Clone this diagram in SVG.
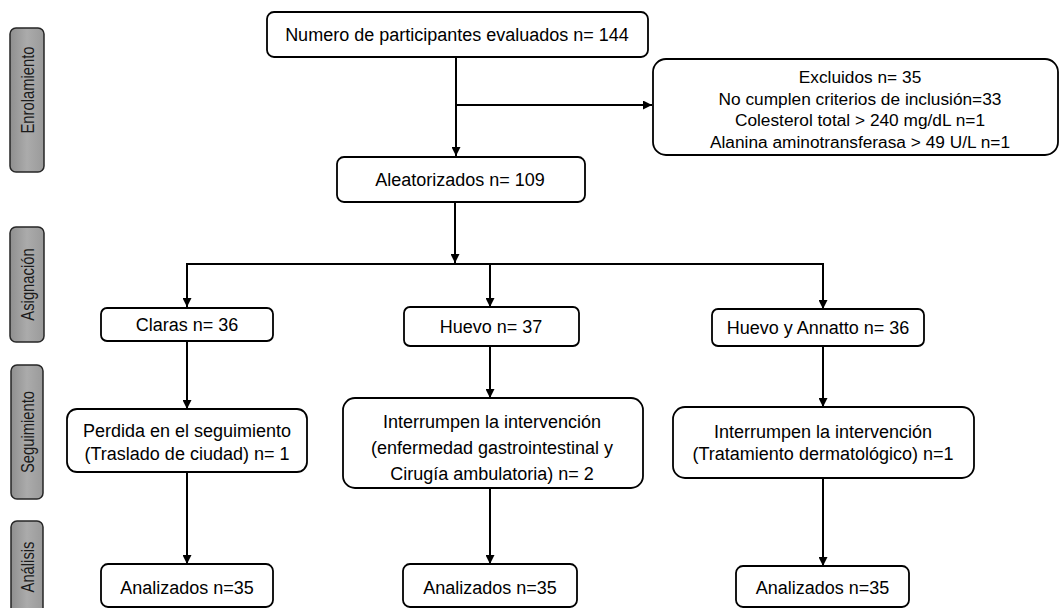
<svg xmlns="http://www.w3.org/2000/svg" width="1061" height="608" viewBox="0 0 1061 608">
<defs>
<style>
.box{fill:#fff;stroke:#000;stroke-width:1.8}
.lbl{fill:url(#g);stroke:#262626;stroke-width:1.5}
.t{font-family:"Liberation Sans",Arial,sans-serif;font-size:18px;fill:#000;text-anchor:middle}
.ts{font-size:17.3px}
.lt{font-family:"Liberation Sans",Arial,sans-serif;font-size:14.8px;fill:#1a1a1a;text-anchor:middle}
.c{fill:none;stroke:#000;stroke-width:2}
</style>
<linearGradient id="g" x1="0" y1="0" x2="1" y2="0">
<stop offset="0" stop-color="#8f8f8f"/>
<stop offset="0.5" stop-color="#ababab"/>
<stop offset="1" stop-color="#9a9a9a"/>
</linearGradient>
<marker id="ah" markerUnits="userSpaceOnUse" viewBox="0 0 10 10" refX="10" refY="5" markerWidth="9" markerHeight="9" orient="auto">
<path d="M0,0 L10,5 L0,10 z" fill="#000"/>
</marker>
</defs>
<rect width="1061" height="608" fill="#fff"/>

<g id="stage-enrolamiento"><rect class="lbl" x="10" y="28" width="34" height="144" rx="6"/><text class="lt" transform="translate(33.5,90) rotate(-90) scale(1,1.2)">Enrolamiento</text></g>
<g id="stage-asignacion"><rect class="lbl" x="10" y="227" width="34" height="115" rx="6"/><text class="lt" transform="translate(33.5,284.5) rotate(-90) scale(1,1.2)">Asignación</text></g>
<g id="stage-seguimiento"><rect class="lbl" x="11" y="365" width="32" height="134" rx="6"/><text class="lt" transform="translate(33.5,432) rotate(-90) scale(1,1.2)">Seguimiento</text></g>
<g id="stage-analisis"><rect class="lbl" x="11" y="521" width="32" height="100" rx="6"/><text class="lt" transform="translate(33.5,567) rotate(-90) scale(1,1.2)">Análisis</text></g>

<g id="connectors">
<path class="c" d="M456,57 V156" marker-end="url(#ah)"/>
<path class="c" d="M456,105 H652" marker-end="url(#ah)"/>
<path class="c" d="M455,202 V263" marker-end="url(#ah)"/>
<path class="c" d="M187,264 H823"/>
<path class="c" d="M187,263 V307" marker-end="url(#ah)"/>
<path class="c" d="M490,264 V307" marker-end="url(#ah)"/>
<path class="c" d="M823,263 V309" marker-end="url(#ah)"/>
<path class="c" d="M187,341 V409" marker-end="url(#ah)"/>
<path class="c" d="M490,346 V398" marker-end="url(#ah)"/>
<path class="c" d="M823,346 V407" marker-end="url(#ah)"/>
<path class="c" d="M187,472 V564" marker-end="url(#ah)"/>
<path class="c" d="M490,488 V564" marker-end="url(#ah)"/>
<path class="c" d="M823,478 V566" marker-end="url(#ah)"/>
</g>

<g id="evaluados"><rect class="box" x="267" y="12" width="381" height="45" rx="7"/><text class="t" x="457" y="41">Numero de participantes evaluados n= 144</text></g>
<g id="excluidos"><rect class="box" x="653" y="59" width="405" height="96" rx="13"/>
<text class="t ts" x="860" y="83">Excluidos n= 35</text>
<text class="t ts" x="860" y="104.5">No cumplen criterios de inclusión=33</text>
<text class="t ts" x="860" y="126">Colesterol total &gt; 240 mg/dL n=1</text>
<text class="t ts" x="860" y="147.5">Alanina aminotransferasa &gt; 49 U/L n=1</text></g>
<g id="aleatorizados"><rect class="box" x="337" y="157" width="248" height="45" rx="7"/><text class="t" x="460" y="186">Aleatorizados n= 109</text></g>

<g id="claras"><rect class="box" x="101" y="308" width="172" height="33" rx="6"/><text class="t" x="187" y="331">Claras n= 36</text></g>
<g id="huevo"><rect class="box" x="404" y="307" width="175" height="39" rx="6"/><text class="t" x="491" y="333">Huevo n= 37</text></g>
<g id="huevo-annatto"><rect class="box" x="712" y="309" width="212" height="37" rx="6"/><text class="t" x="818" y="334">Huevo y Annatto n= 36</text></g>

<g id="perdida"><rect class="box" x="67" y="409" width="240" height="63" rx="10"/>
<text class="t" x="187" y="437">Perdida en el seguimiento</text>
<text class="t" x="187" y="460">(Traslado de ciudad) n= 1</text></g>
<g id="interrumpen-huevo"><rect class="box" x="343" y="398" width="300" height="90" rx="12"/>
<text class="t" x="492" y="428">Interrumpen la intervención</text>
<text class="t" x="492" y="454">(enfermedad gastrointestinal y</text>
<text class="t" x="492" y="480">Cirugía ambulatoria) n= 2</text></g>
<g id="interrumpen-annatto"><rect class="box" x="673" y="407" width="301" height="71" rx="12"/>
<text class="t" x="823" y="438">Interrumpen la intervención</text>
<text class="t" x="823" y="460">(Tratamiento dermatológico) n=1</text></g>

<g id="analizados-claras"><rect class="box" x="101" y="564" width="172" height="43" rx="7"/><text class="t" x="187" y="594">Analizados n=35</text></g>
<g id="analizados-huevo"><rect class="box" x="403" y="564" width="174" height="43" rx="7"/><text class="t" x="490" y="594">Analizados n=35</text></g>
<g id="analizados-annatto"><rect class="box" x="736" y="566" width="173" height="41" rx="7"/><text class="t" x="822.5" y="594">Analizados n=35</text></g>
</svg>
